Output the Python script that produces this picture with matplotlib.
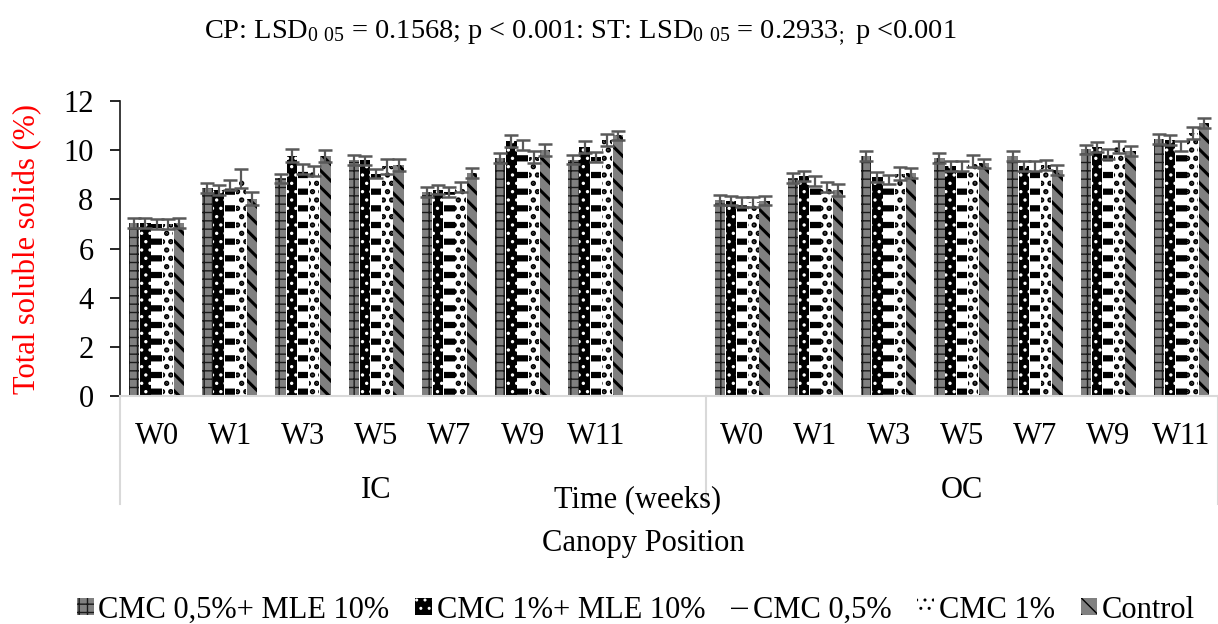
import matplotlib
matplotlib.use("Agg")
import matplotlib.pyplot as plt
import matplotlib.transforms as mtransforms
from matplotlib.patches import Patch
import numpy as np

plt.rcParams["font.family"] = ["Liberation Serif", "DejaVu Serif"]
plt.rcParams["mathtext.default"] = "regular"

# ---- data -------------------------------------------------------------
weeks = ["W0", "W1", "W3", "W5", "W7", "W9", "W11"]
positions = ["IC", "OC"]
treatments = ["CMC 0,5%+ MLE 10%", "CMC 1%+ MLE 10%", "CMC 0,5%", "CMC 1%", "Control"]

# mean TSS (%), IC weeks then OC weeks
cmc05_mle = [7.05, 8.47, 8.85, 9.60, 8.30, 9.69, 9.62,
             7.97, 8.87, 9.76, 9.69, 9.76, 10.03, 10.47]
cmc1_mle = [7.05, 8.37, 9.78, 9.58, 8.40, 10.38, 10.14,
            7.95, 8.96, 8.92, 9.35, 9.35, 10.14, 10.43]
cmc05 = [7.00, 8.60, 9.24, 9.05, 8.30, 10.20, 9.73,
         7.90, 8.74, 8.81, 9.35, 9.35, 9.86, 10.16]
cmc1 = [7.00, 8.85, 9.15, 9.35, 8.50, 9.73, 10.40,
        7.90, 8.51, 9.05, 9.57, 9.40, 10.12, 10.70]
control = [7.05, 8.03, 9.75, 9.39, 9.08, 10.00, 10.60,
           7.95, 8.37, 9.08, 9.46, 9.19, 9.96, 11.10]

err_cmc05_mle = [0.20, 0.20, 0.20, 0.20, 0.20, 0.20, 0.20,
                 0.20, 0.20, 0.20, 0.20, 0.20, 0.20, 0.20]
err_cmc1_mle = [0.20, 0.20, 0.25, 0.20, 0.20, 0.25, 0.25,
                0.20, 0.20, 0.20, 0.20, 0.20, 0.20, 0.20]
err_cmc05 = [0.20, 0.20, 0.20, 0.20, 0.20, 0.20, 0.20,
             0.20, 0.20, 0.20, 0.20, 0.20, 0.20, 0.20]
err_cmc1 = [0.20, 0.40, 0.20, 0.30, 0.20, 0.25, 0.25,
            0.20, 0.20, 0.25, 0.25, 0.20, 0.25, 0.25]
err_control = [0.20, 0.25, 0.25, 0.25, 0.20, 0.25, 0.20,
               0.20, 0.25, 0.20, 0.20, 0.20, 0.20, 0.20]

series = [cmc05_mle, cmc1_mle, cmc05, cmc1, control]
errors = [err_cmc05_mle, err_cmc1_mle, err_cmc05, err_cmc1, err_control]

title = ("CP: LSD$_{0\\ 05}$ = 0.1568; p < 0.001: ST: LSD$_{0\\ 05}$ = 0.2933$_{;}$ p <0.001")

# ---- styles -----------------------------------------------------------
styles = [
    dict(facecolor="#808080", edgecolor="#1a1a1a", hatch="++", hlw=1.0),
    dict(facecolor="#000000", edgecolor="#ffffff", hatch="..", hlw=1.2),
    dict(facecolor="#ffffff", edgecolor="#000000", hatch="-", hlw=4.5),
    dict(facecolor="#ffffff", edgecolor="#000000", hatch="..", hlw=2.6),
    dict(facecolor="#808080", edgecolor="#000000", hatch="\\\\", hlw=2.2),
]

fig = plt.figure(figsize=(12.18, 6.24), dpi=100)
ax = fig.add_axes([120 / 1218, 228 / 624, 1098 / 1218, 295 / 624])

# slot 7 left empty between the two canopy positions
xpos = np.array(list(range(7)) + list(range(8, 15)), dtype=float)
step = 0.153
bw = 0.140

for i, (vals, errs, st) in enumerate(zip(series, errors, styles)):
    x = xpos + (i - 2) * step
    with plt.rc_context({"hatch.linewidth": st["hlw"]}):
        bars = ax.bar(x, vals, width=bw, facecolor=st["facecolor"],
                      edgecolor=st["edgecolor"], hatch=st["hatch"],
                      linewidth=0, zorder=2)
        for b in bars:
            if hasattr(b, "set_hatch_linewidth"):
                b.set_hatch_linewidth(st["hlw"])
    ax.errorbar(x, vals, yerr=errs, fmt="none", ecolor="#595959",
                elinewidth=1.6, capsize=5, capthick=1.8, zorder=3)

ax.set_xlim(-0.5, 14.5)
ax.set_ylim(0, 12)
ax.set_yticks(range(0, 13, 2))
ax.tick_params(axis="y", labelsize=22, length=7, width=1.2, direction="out", pad=12)
ax.set_xticks(xpos)
ax.set_xticklabels(weeks + weeks)
ax.tick_params(axis="x", labelsize=22, length=0, pad=19)

for s in ["top", "right"]:
    ax.spines[s].set_visible(False)
ax.spines["left"].set_color("#1a1a1a")
ax.spines["left"].set_linewidth(1.2)
ax.spines["bottom"].set_color("#d9d9d9")
ax.spines["bottom"].set_linewidth(1.5)

ax.set_ylabel("Total soluble solids (%)", color="red", fontsize=22, labelpad=15)

# category group labels and separators
trans = mtransforms.blended_transform_factory(ax.transData, ax.transAxes)
ax.text(3.0, -0.322, positions[0], transform=trans, ha="center", va="center", fontsize=22)
ax.text(11.0, -0.322, positions[1], transform=trans, ha="center", va="center", fontsize=22)
for xs in [-0.5, 7.5, 14.5]:
    ax.plot([xs, xs], [0, -0.365], transform=trans, color="#d9d9d9",
            lw=1.5, clip_on=False, zorder=1)

fig.text(638 / 1218, 1 - 500 / 624, "Time (weeks)", ha="center", va="center", fontsize=22)
fig.text(643 / 1218, 1 - 543 / 624, "Canopy Position", ha="center", va="center", fontsize=22)
fig.text(580 / 1218, 1 - 33 / 624, title, ha="center", va="center", fontsize=20.4)

# legend
handles = []
for st, name in zip(styles, treatments):
    with plt.rc_context({"hatch.linewidth": min(st["hlw"], 3.0)}):
        h = Patch(facecolor=st["facecolor"], edgecolor=st["edgecolor"],
                  hatch=st["hatch"], linewidth=0, label=name)
        if hasattr(h, "set_hatch_linewidth"):
            h.set_hatch_linewidth(min(st["hlw"], 3.0))
    handles.append(h)
fig.legend(handles=handles, loc="center", bbox_to_anchor=(636 / 1218, 1 - 610 / 624),
           ncol=5, frameon=False, fontsize=22, handlelength=0.55, handleheight=0.5,
           handletextpad=0.15, columnspacing=0.85, borderaxespad=0)

fig.savefig("out.png", dpi=100)
